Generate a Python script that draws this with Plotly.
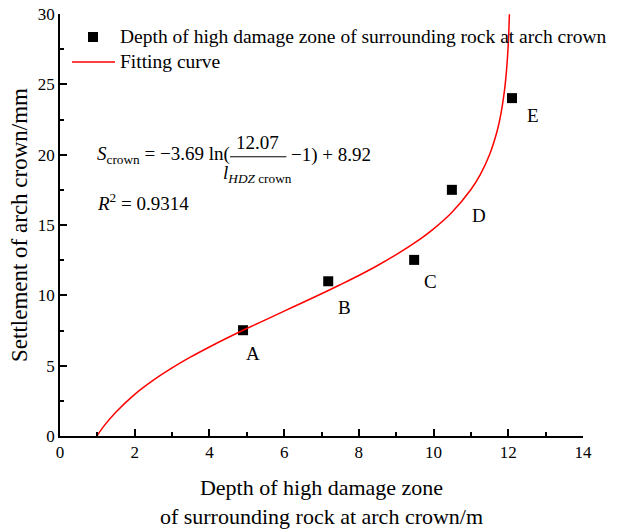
import plotly.graph_objects as go

# Measured points
depth = [4.9, 7.18, 9.48, 10.49, 12.1]
settlement = [7.52, 11.0, 12.52, 17.5, 24.02]
point_labels = ["A", "B", "C", "D", "E"]
# label offsets in pixels (styling)
label_dx = [10, 16, 16, 27, 21]
label_dy = [23, 26, 22, 26, 17]

# Fitting curve
fit_x = [1.0, 1.2, 1.5, 2.0, 2.5, 3.0, 3.5, 4.0, 4.5, 5.0, 5.5, 6.0, 6.5, 7.0, 7.5,
         8.0, 8.5, 9.0, 9.5, 10.0, 10.5, 11.0, 11.25, 11.5, 11.7, 11.8, 11.9, 11.95,
         12.0, 12.03]
fit_y = [0.05, 0.79, 1.71, 2.96, 3.97, 4.84, 5.62, 6.33, 7.00, 7.64, 8.26, 8.88, 9.49,
         10.11, 10.75, 11.41, 12.12, 12.89, 13.74, 14.73, 15.93, 17.52, 18.58, 20.01,
         21.66, 22.86, 24.60, 25.90, 27.90, 29.98]

x_ticks = [0, 2, 4, 6, 8, 10, 12, 14]
y_ticks = [0, 5, 10, 15, 20, 25, 30]

legend_names = ["Depth of high damage zone of surrounding rock at arch crown", "Fitting curve"]

FONT = "Liberation Serif"

fig = go.Figure()
fig.add_trace(go.Scatter(
    x=depth, y=settlement, mode="markers", name=legend_names[0],
    marker=dict(symbol="square", size=10, color="black"), showlegend=False,
))
fig.add_trace(go.Scatter(
    x=fit_x, y=fit_y, mode="lines", name=legend_names[1],
    line=dict(color="red", width=1.5, shape="spline"), showlegend=False,
))

annotations = []
for xx, yy, lab, dx, dy in zip(depth, settlement, point_labels, label_dx, label_dy):
    annotations.append(dict(x=xx, y=yy, text=lab, showarrow=False, xref="x", yref="y",
                            xshift=dx, yshift=-dy,
                            font=dict(family=FONT, size=19, color="black")))

eq_font = dict(family=FONT, size=19, color="black")
annotations += [
    dict(x=0.94, y=20.0, xref="x", yref="y", xanchor="left", yanchor="middle", showarrow=False,
         text="<i>S</i><sub>crown</sub> = −3.69 ln(", font=eq_font),
    dict(x=5.3, y=20.9, xref="x", yref="y", xanchor="center", yanchor="middle", showarrow=False,
         text="12.07", font=eq_font),
    dict(x=5.3, y=18.6, xref="x", yref="y", xanchor="center", yanchor="middle", showarrow=False,
         text="<i>l</i><sub><i>HDZ</i> crown</sub>", font=eq_font),
    dict(x=6.12, y=20.0, xref="x", yref="y", xanchor="left", yanchor="middle", showarrow=False,
         text="−1) + 8.92", font=eq_font),
    dict(x=0.94, y=16.6, xref="x", yref="y", xanchor="left", yanchor="middle", showarrow=False,
         text="<i>R</i><sup>2</sup> = 0.9314", font=eq_font),
]

# custom legend (text as annotations)
leg_font = dict(family=FONT, size=19.5, color="black")
annotations += [
    dict(x=0.1109, y=0.9455, xref="paper", yref="paper", xanchor="left", yanchor="middle",
         showarrow=False, text=legend_names[0], font=leg_font),
    dict(x=0.1109, y=0.8863, xref="paper", yref="paper", xanchor="left", yanchor="middle",
         showarrow=False, text=legend_names[1], font=leg_font),
]

shapes = [
    dict(type="line", xref="x", yref="y", x0=4.55, x1=6.06, y0=19.85, y1=19.85,
         line=dict(color="black", width=1)),
    dict(type="rect", xref="paper", yref="paper", x0=0.0535, x1=0.0727, y0=0.9336, y1=0.9573,
         fillcolor="black", line=dict(width=0)),
    dict(type="line", xref="paper", yref="paper", x0=0.0229, x1=0.1052, y0=0.8863, y1=0.8863,
         line=dict(color="red", width=1.5)),
]

fig.update_layout(
    width=617, height=529,
    margin=dict(l=60, r=34, t=14, b=93),
    paper_bgcolor="white", plot_bgcolor="white",
    font=dict(family=FONT, size=16, color="black"),
    showlegend=False,
    annotations=annotations,
    shapes=shapes,
)

fig.update_xaxes(
    range=[0, 14], tickvals=x_ticks, ticktext=[str(v) for v in x_ticks],
    showline=True, linecolor="black", linewidth=1.5, mirror=False,
    ticks="inside", ticklen=7, tickwidth=1.5, tickcolor="black",
    minor=dict(dtick=1, ticks="inside", ticklen=4, tickwidth=1.5, tickcolor="black"),
    showgrid=False, zeroline=False, automargin=False,
    tickfont=dict(family=FONT, size=17),
    title=dict(text="Depth of high damage zone<br>of surrounding rock at arch crown/m",
               font=dict(family=FONT, size=22), standoff=20),
)
fig.update_yaxes(
    range=[0, 30], tickvals=y_ticks, ticktext=[str(v) for v in y_ticks],
    showline=True, linecolor="black", linewidth=1.5, mirror=False,
    ticks="inside", ticklen=7, tickwidth=1.5, tickcolor="black",
    minor=dict(dtick=2.5, ticks="inside", ticklen=4, tickwidth=1.5, tickcolor="black"),
    showgrid=False, zeroline=False, automargin=False,
    tickfont=dict(family=FONT, size=17),
    title=dict(text="Settlement of arch crown/mm", font=dict(family=FONT, size=23), standoff=4),
)

fig.write_html("out.html")
